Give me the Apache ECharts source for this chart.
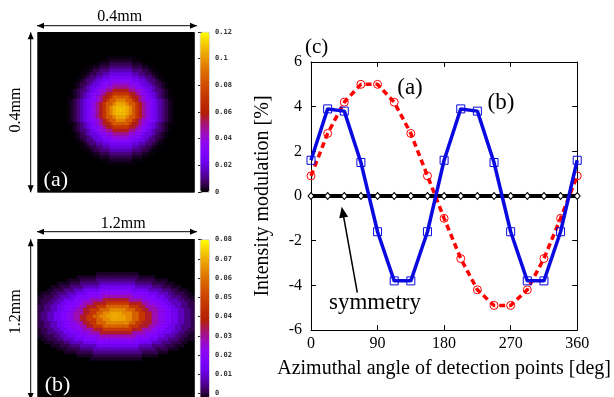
<!DOCTYPE html>
<html>
<head>
<meta charset="utf-8">
<script src="https://cdn.jsdelivr.net/npm/echarts@6/dist/echarts.min.js"></script>
<style>
  html, body { margin: 0; padding: 0; background: #fff; }
  #chart { width: 614px; height: 397px; }
</style>
</head>
<body>
<div id="chart"></div>
<script>
// (c) intensity modulation vs azimuthal angle of the detection points
const angles = [0, 22.5, 45, 67.5, 90, 112.5, 135, 157.5, 180, 202.5, 225, 247.5, 270, 292.5, 315, 337.5, 360]
const modA = [0.9, 2.8, 4.2, 5.0, 5.0, 4.2, 2.8, 0.9, -1.0, -2.8, -4.2, -4.9, -4.9, -4.2, -2.8, -1.0, 0.9]
const modB = [1.6, 3.9, 3.8, 1.5, -1.6, -3.8, -3.8, -1.6, 1.6, 3.9, 3.8, 1.5, -1.6, -3.8, -3.8, -1.6, 1.6]
const modSym = [0, 0, 0, 0, 0, 0, 0, 0, 0, 0, 0, 0, 0, 0, 0, 0, 0]
const xTicks = [0, 90, 180, 270, 360]
const yTicks = [-6, -4, -2, 0, 2, 4, 6]

// beam spots (a) and (b): intensity read outward from the spot centre, one value per cell ring
const profileA = [0.110, 0.108, 0.104, 0.096, 0.085, 0.071, 0.058, 0.048, 0.040, 0.033, 0.027, 0.021, 0.015, 0.010, 0.006, 0.003, 0.001, 0]
const profileB = [0.070, 0.069, 0.065, 0.058, 0.048, 0.038, 0.030, 0.024, 0.020, 0.016, 0.011, 0.007, 0.004, 0.002, 0]
const cbTicksA = [0, 0.02, 0.04, 0.06, 0.08, 0.1, 0.12]
const cbTicksB = [0, 0.01, 0.02, 0.03, 0.04, 0.05, 0.06, 0.07, 0.08]

const N = 48 // cells per side of each map
const cells = Array.from({ length: N }, (_, i) => i)

// spot centre (in cells) and horizontal stretch
function buildMap (profile, cx, cy, sx) {
  const out = []
  for (let i = 0; i < N; i++) {
    for (let j = 0; j < N; j++) {
      const k = Math.round(Math.hypot((i + 0.5 - cx) / sx, j + 0.5 - cy))
      out.push([i, j, k < profile.length ? profile[k] : 0])
    }
  }
  return out
}
const mapA = buildMap(profileA, 25.5, 23.5, 1)
const mapB = buildMap(profileB, 24.3, 23.6, 2)

// gnuplot default pm3d palette (black - violet - red - yellow)
const palette = ['#000000', '#400062', '#5a00b4', '#6e02ec', '#8004ff', '#8f08ec', '#9c0db4', '#a91562',
  '#b42000', '#bf2d00', '#ca3e00', '#d35300', '#dd6c00', '#e68900', '#efab00', '#f7d200', '#ffff00']

const serif = '"Liberation Serif", "Times New Roman", serif'
const mono = '"DejaVu Sans Mono", monospace'

function arrowHead (tx, ty, fx, fy, len, hw) {
  const d = Math.hypot(tx - fx, ty - fy)
  const ux = (tx - fx) / d
  const uy = (ty - fy) / d
  const bx = tx - ux * len
  const by = ty - uy * len
  return {
    type: 'polygon',
    z: 100,
    shape: { points: [[tx, ty], [bx - uy * hw, by + ux * hw], [bx + uy * hw, by - ux * hw]] },
    style: { fill: '#000' }
  }
}
function dimArrow (x1, y1, x2, y2) {
  return [
    { type: 'line', z: 100, shape: { x1, y1, x2, y2 }, style: { stroke: '#000', lineWidth: 1 } },
    arrowHead(x1, y1, x2, y2, 7, 3),
    arrowHead(x2, y2, x1, y1, 7, 3)
  ]
}
function txt (x, y, text, size, color, rotation) {
  return {
    type: 'text',
    z: 100,
    x,
    y,
    rotation: rotation || 0,
    style: { text, font: size + 'px ' + serif, fill: color || '#000', align: 'center', verticalAlign: 'middle' }
  }
}

function cbAxes (grid, ticks) {
  const base = {
    gridIndex: grid,
    type: 'value',
    min: ticks[0],
    max: ticks[ticks.length - 1],
    interval: ticks[1] - ticks[0],
    axisLine: { show: false },
    axisTick: { inside: true, length: 2, lineStyle: { color: '#222' } },
    splitLine: { show: false }
  }
  return [
    Object.assign({}, base, {
      position: 'right',
      axisLabel: { margin: 6, fontFamily: mono, fontSize: 7, fontWeight: 'bold', color: '#333' }
    }),
    Object.assign({}, base, { position: 'left', axisLabel: { show: false } })
  ]
}

const mainTickStyle = { inside: true, length: 5, lineStyle: { color: '#000' } }
const mainLine = { onZero: false, lineStyle: { color: '#000', width: 1 } }

const option = {
  animation: false,
  grid: [
    { left: 37.7, top: 32.3, width: 156.7, height: 160, show: true, backgroundColor: '#000', borderWidth: 0 },
    { left: 37.7, top: 239.3, width: 156.7, height: 160, show: true, backgroundColor: '#000', borderWidth: 0 },
    { left: 200, top: 32, width: 9, height: 160 },
    { left: 200, top: 239.5, width: 9, height: 160 },
    { left: 311, top: 62, width: 268, height: 268 }
  ],
  visualMap: [
    {
      type: 'continuous', seriesIndex: 0, min: cbTicksA[0], max: cbTicksA[cbTicksA.length - 1],
      left: 200, top: 32, itemWidth: 9, itemHeight: 160, padding: 0,
      calculable: false, text: null, inRange: { color: palette },
      borderColor: '#999', borderWidth: 0.5
    },
    {
      type: 'continuous', seriesIndex: 1, min: cbTicksB[0], max: cbTicksB[cbTicksB.length - 1],
      left: 200, top: 239.5, itemWidth: 9, itemHeight: 160, padding: 0,
      calculable: false, text: null, inRange: { color: palette },
      borderColor: '#999', borderWidth: 0.5
    }
  ],
  xAxis: [
    { gridIndex: 0, type: 'category', data: cells, show: false },
    { gridIndex: 1, type: 'category', data: cells, show: false },
    { gridIndex: 2, type: 'value', show: false },
    { gridIndex: 3, type: 'value', show: false },
    {
      gridIndex: 4, type: 'value', position: 'bottom',
      min: xTicks[0], max: xTicks[xTicks.length - 1], interval: xTicks[1] - xTicks[0],
      axisLine: mainLine, axisTick: mainTickStyle, splitLine: { show: false },
      axisLabel: { color: '#000', fontFamily: serif, fontSize: 16, margin: 6 },
      name: 'Azimuthal angle of detection points [deg]', nameLocation: 'middle', nameGap: 29,
      nameTextStyle: { color: '#000', fontFamily: serif, fontSize: 20 }
    },
    {
      gridIndex: 4, type: 'value', position: 'top',
      min: xTicks[0], max: xTicks[xTicks.length - 1], interval: xTicks[1] - xTicks[0],
      axisLine: mainLine, axisTick: mainTickStyle, splitLine: { show: false },
      axisLabel: { show: false }
    }
  ],
  yAxis: [
    { gridIndex: 0, type: 'category', data: cells, show: false, inverse: true },
    { gridIndex: 1, type: 'category', data: cells, show: false, inverse: true },
    ...cbAxes(2, cbTicksA),
    ...cbAxes(3, cbTicksB),
    {
      gridIndex: 4, type: 'value', position: 'left',
      min: yTicks[0], max: yTicks[yTicks.length - 1], interval: yTicks[1] - yTicks[0],
      axisLine: mainLine, axisTick: mainTickStyle, splitLine: { show: false },
      axisLabel: { color: '#000', fontFamily: serif, fontSize: 16, margin: 9 },
      name: 'Intensity modulation [%]', nameLocation: 'middle', nameGap: 38,
      nameTextStyle: { color: '#000', fontFamily: serif, fontSize: 20 }
    },
    {
      gridIndex: 4, type: 'value', position: 'right',
      min: yTicks[0], max: yTicks[yTicks.length - 1], interval: yTicks[1] - yTicks[0],
      axisLine: mainLine, axisTick: mainTickStyle, splitLine: { show: false },
      axisLabel: { show: false }
    }
  ],
  series: [
    {
      type: 'heatmap', xAxisIndex: 0, yAxisIndex: 0, data: mapA,
      itemStyle: { borderWidth: 0 }, emphasis: { disabled: true }
    },
    {
      type: 'heatmap', xAxisIndex: 1, yAxisIndex: 1, data: mapB,
      itemStyle: { borderWidth: 0 }, emphasis: { disabled: true }
    },
    {
      name: 'symmetry', type: 'line', xAxisIndex: 4, yAxisIndex: 6,
      data: angles.map((a, i) => [a, modSym[i]]),
      symbol: 'diamond', symbolSize: [6, 7],
      lineStyle: { color: '#000', width: 4 },
      itemStyle: { color: '#fff', borderColor: '#000', borderWidth: 1 },
      z: 3
    },
    {
      name: '(a)', type: 'line', xAxisIndex: 4, yAxisIndex: 6,
      data: angles.map((a, i) => [a, modA[i]]),
      symbol: 'circle', symbolSize: 8,
      lineStyle: { color: '#ff0000', width: 3.5, type: [6, 4] },
      itemStyle: { color: 'rgba(0,0,0,0)', borderColor: '#ff0000', borderWidth: 1 },
      z: 4
    },
    {
      name: '(b)', type: 'line', xAxisIndex: 4, yAxisIndex: 6,
      data: angles.map((a, i) => [a, modB[i]]),
      symbol: 'rect', symbolSize: 8,
      lineStyle: { color: '#0a0ae0', width: 3.5 },
      itemStyle: { color: 'rgba(0,0,0,0)', borderColor: '#0a0ae0', borderWidth: 1 },
      z: 5
    }
  ],
  graphic: [
    // dimension arrows of the beam spots
    ...dimArrow(37, 25.7, 197, 25.7),
    ...dimArrow(30.7, 32.3, 30.7, 192.3),
    ...dimArrow(37, 231.7, 197, 231.7),
    ...dimArrow(30.7, 239.3, 30.7, 400),
    txt(119.7, 16.7, '0.4mm', 16),
    txt(123.3, 223.3, '1.2mm', 16),
    txt(16, 110, '0.4mm', 16, '#000', Math.PI / 2),
    txt(16, 311.7, '1.2mm', 16, '#000', Math.PI / 2),
    txt(55.8, 180.5, '(a)', 22, '#fff'),
    txt(57.5, 385, '(b)', 22, '#fff'),
    // panel (c) annotations
    txt(316.7, 47.5, '(c)', 21),
    txt(410, 87.5, '(a)', 23),
    txt(501, 103, '(b)', 23),
    txt(375, 303, 'symmetry', 23),
    { type: 'line', z: 100, shape: { x1: 357.3, y1: 292.7, x2: 343.5, y2: 216 }, style: { stroke: '#000', lineWidth: 1.5 } },
    arrowHead(341.7, 206.7, 357.3, 292.7, 11, 4.5)
  ]
}

const myChart = echarts.init(document.getElementById('chart'))
myChart.setOption(option)
</script>
</body>
</html>
